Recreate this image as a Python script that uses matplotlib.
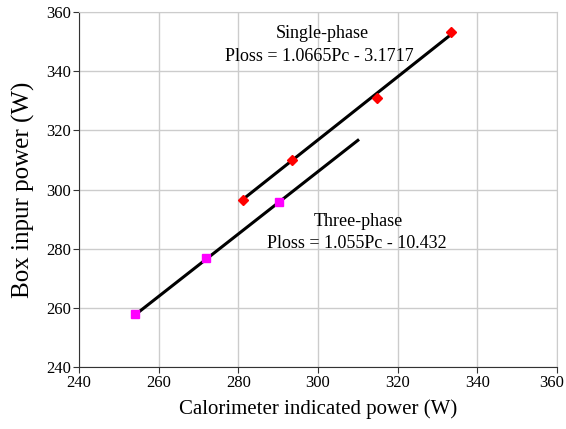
import numpy as np
import matplotlib.pyplot as plt
import matplotlib.transforms as mtransforms

plt.rcParams['font.family'] = ['Liberation Serif', 'DejaVu Serif']

# measured points
single_pc = [281.1, 293.5, 314.9, 333.3]
single_ploss = [296.4, 310.0, 331.0, 353.2]
three_pc = [254.1, 271.8, 290.2]
three_ploss = [257.9, 276.9, 295.9]

# fitted lines (slope, intercept) and x extent
single_fit = (1.0665, -3.1717)
single_range = [281.1, 333.3]
three_fit = (1.055, -10.432)
three_range = [254.1, 310.0]

fig = plt.figure(figsize=(5.66, 4.29), dpi=100)
ax = fig.add_axes([0.1396, 0.1445, 0.8445, 0.8275])

xs = np.array(single_range)
ax.plot(xs, single_fit[0] * xs + single_fit[1], color='black', lw=2.2, zorder=2)
xt = np.array(three_range)
ax.plot(xt, three_fit[0] * xt + three_fit[1], color='black', lw=2.2, zorder=2)

ax.plot(single_pc, single_ploss, linestyle='none', marker='D', ms=5,
        color='red', zorder=3)
ax.plot(three_pc, three_ploss, linestyle='none', marker='s', ms=6,
        color='magenta', zorder=3)

ax.text(301.1, 352.9, 'Single-phase', ha='center', va='center', fontsize=13)
ax.text(300.4, 344.8, 'Ploss = 1.0665Pc - 3.1717', ha='center', va='center', fontsize=13)
ax.text(310.0, 289.3, 'Three-phase', ha='center', va='center', fontsize=13)
ax.text(309.8, 281.9, 'Ploss = 1.055Pc - 10.432', ha='center', va='center', fontsize=13)

ax.set_xlim(240, 360)
ax.set_ylim(240, 360)
ax.set_xticks(np.arange(240, 361, 20))
ax.set_yticks(np.arange(240, 361, 20))
ax.grid(True, color='#cccccc', lw=1)
ax.set_axisbelow(True)
ax.spines['top'].set_color('#cccccc')
ax.spines['right'].set_color('#cccccc')
ax.spines['left'].set_color('#333333')
ax.spines['bottom'].set_color('#333333')
ax.tick_params(labelsize=12, length=4, color='#333333', pad=2)
ax.set_xlabel('Calorimeter indicated power (W)', fontsize=15, labelpad=6)
ax.set_ylabel('Box inpur power (W)', fontsize=18, labelpad=8)

# keep the last x tick label inside the figure
last = ax.get_xticklabels()[-1]
last.set_transform(last.get_transform() +
                   mtransforms.ScaledTranslation(-4 / 72, 0, fig.dpi_scale_trans))

fig.savefig('out.png', dpi=100)
